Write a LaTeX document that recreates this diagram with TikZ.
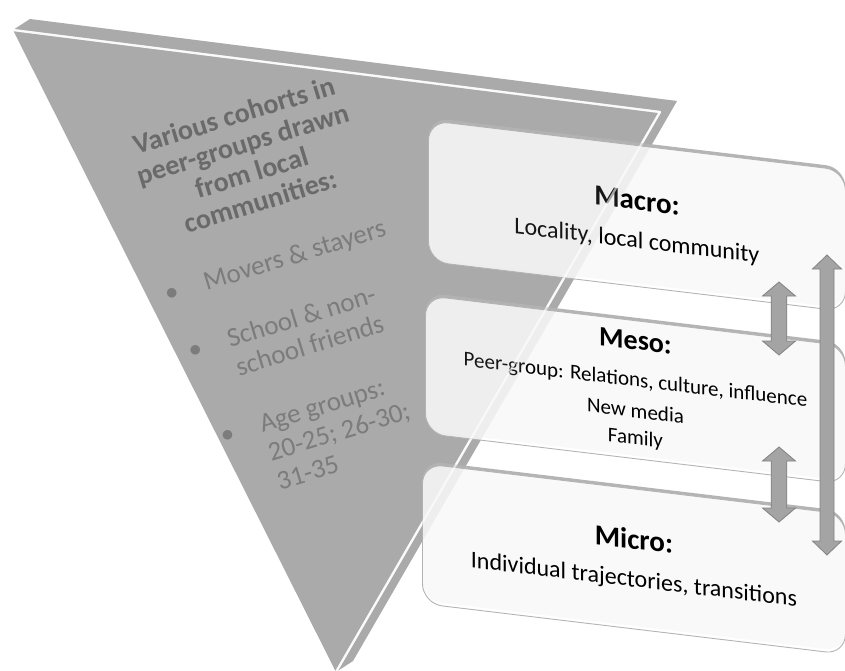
\documentclass[tikz,border=0pt]{standalone}
\usepackage{fontspec}
\setmainfont{Carlito}
\usetikzlibrary{calc,shadows}

\definecolor{slab}{RGB}{170,170,170}
\definecolor{slabtext}{RGB}{106,106,106}
\definecolor{itemtext}{RGB}{124,124,124}
\definecolor{boxedge}{RGB}{180,180,180}
\definecolor{arrowfill}{RGB}{164,164,164}
\definecolor{arrowedge}{RGB}{130,130,130}

% vertical block arrow with a head at both ends
\newcommand{\levelarrow}[4]{%
  \filldraw[blockarrow] let \p1=(#1), \p2=(#2) in
    (\x1,\y1) -- (\x1+#4pt,\y1-14pt) -- (\x1+#3pt,\y1-14pt) -- (\x1+#3pt,\y2+14pt)
    -- (\x1+#4pt,\y2+14pt) -- (\x1,\y2) -- (\x1-#4pt,\y2+14pt) -- (\x1-#3pt,\y2+14pt)
    -- (\x1-#3pt,\y1-14pt) -- (\x1-#4pt,\y1-14pt) -- cycle;}

\begin{document}
\begin{tikzpicture}[
    x=1pt, y=-1pt,
    level/.style={rectangle,draw=boxedge,line width=0.9pt,fill=white,fill opacity=0.92,text opacity=1,
      rounded corners=20pt,anchor=north west,inner sep=0pt,align=center,
      drop shadow={shadow xshift=0pt,shadow yshift=3pt,opacity=1,fill=boxedge}},
    heading/.style={rotate=17,align=center,text=slabtext,font=\fontsize{28}{30}\selectfont\bfseries},
    blockarrow/.style={fill=arrowfill,draw=arrowedge,line width=0.8pt}
]
\useasboundingbox (0,0) rectangle (845,670);

% Slab
\coordinate (tl) at (13,30);
\coordinate (tr) at (660,112);
\coordinate (tip) at (336,672);
\coordinate (tlb) at (30,19);
\coordinate (trb) at (677,101);
\coordinate (tipb) at (353,661);
\fill[slab] (tl) -- (tlb) -- (trb) -- (tipb) -- (tip) -- cycle;
\draw[white,line width=2.2pt,line join=round] (tl) -- (tr) -- (tip);

% Levels
\begin{scope}[yslant=-0.12,transform shape]
\node[level,minimum width=417pt,minimum height=141pt,font=\fontsize{24}{30}\selectfont] (macro) at (428,68.6)
  {\rule{0pt}{30pt}{\fontsize{29}{30}\selectfont\bfseries Macro:}\\[8pt]Locality, local community};
\node[level,minimum width=420pt,minimum height=138pt,font=\fontsize{21}{28}\selectfont] (meso) at (425,244)
  {{\fontsize{28}{30}\selectfont\bfseries Meso:}\\[9pt]Peer-group: Relations, culture, influence\\[3pt]New media\\[-1pt]Family};
\node[level,minimum width=423pt,minimum height=140pt,font=\fontsize{24}{30}\selectfont] (micro) at (422,412.4)
  {\rule{0pt}{22pt}{\fontsize{29}{30}\selectfont\bfseries Micro:}\\[8pt]Individual trajectories, transitions};
\end{scope}

% slab showing through the levels
\fill[slab,opacity=0.13] (tl) -- (tlb) -- (trb) -- (tipb) -- (tip) -- cycle;
\draw[white,opacity=0.6,line width=2.2pt,line join=round] (tl) -- (tr) -- (tip);

% Cohorts
\node[heading] (cohorts) at (247,158) {Various cohorts in\\peer-groups drawn\\from local\\communities:};
\node[rotate=17,anchor=base west,text=itemtext,font=\fontsize{27}{30}\selectfont] (groups) at (167,303)
  {\begin{tabular}[t]{@{}p{38pt}@{}l@{}}
    \hspace*{-3pt}\textbullet & Movers \& stayers\\[31pt]
    \hspace*{3pt}\textbullet & \hspace*{6pt}School \& non-\\
                & \hspace*{6pt}school friends\\[31pt]
    \hspace*{9pt}\textbullet & \hspace*{12pt}Age groups:\\
                & \hspace*{12pt}20-25; 26-30;\\
                & \hspace*{12pt}31-35
   \end{tabular}};

% Arrows
\coordinate (up1) at (779,282);
\coordinate (dn1) at (779,355);
\coordinate (up2) at (779,447);
\coordinate (dn2) at (779,522);
\coordinate (upall) at (827,255);
\coordinate (dnall) at (827,555);
\levelarrow{up1}{dn1}{7.8}{16.5}
\levelarrow{up2}{dn2}{7.8}{16.5}
\levelarrow{upall}{dnall}{7}{14.5}

\end{tikzpicture}
\end{document}
